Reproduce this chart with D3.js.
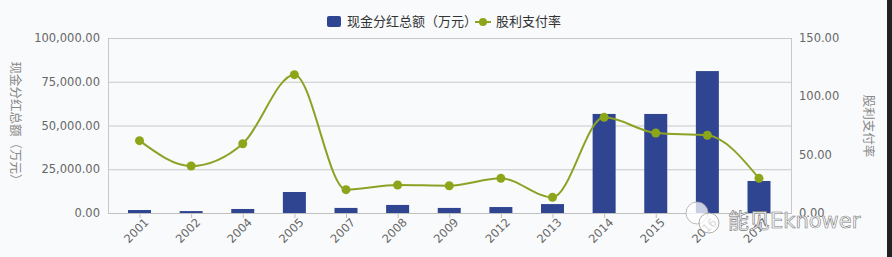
<!DOCTYPE html>
<html>
<head>
<meta charset="utf-8">
<script src="https://cdn.jsdelivr.net/npm/d3@7"></script>
<style>
  html, body { margin: 0; padding: 0; background: #f9fafc; }
  svg { display: block; }
  text { font-family: "DejaVu Sans", "Noto Sans CJK SC", sans-serif; }
</style>
</head>
<body>
<svg id="chart" width="892" height="257"></svg>
<script>
// Years with a cash dividend
const years = ["2001", "2002", "2004", "2005", "2007", "2008", "2009", "2012", "2013", "2014", "2015", "2016", "2017"];
// Total cash dividend (10k yuan)
const dividendTotal = [1700, 1100, 2300, 12000, 2900, 4600, 2900, 3400, 5100, 56600, 56600, 81100, 18300];
// Dividend payout ratio (%)
const payoutRatio = [62.0, 40.3, 59.4, 118.6, 20.0, 24.0, 23.4, 29.7, 13.4, 82.0, 68.6, 66.6, 29.7];
// Axis ticks
const leftTicks = [0, 25000, 50000, 75000, 100000];
const rightTicks = [0, 50, 100, 150];

const barName = "现金分红总额（万元）";
const lineName = "股利支付率";

const svg = d3.select("#chart");
const W = 892, H = 257;
const plot = { left: 108, right: 791, top: 38, bottom: 213 };

const x = d3.scalePoint().domain(years).range([139.5, 759]);
const barW = 23;
const yL = d3.scaleLinear().domain([0, 100000]).range([plot.bottom, plot.top]);
const yR = d3.scaleLinear().domain([0, 150]).range([plot.bottom, plot.top]);

const fmt = d3.format(",.2f");
const axisColor = "#666";

// grid lines
svg.append("g").selectAll("line").data(leftTicks.slice(1)).join("line")
  .attr("x1", plot.left).attr("x2", plot.right)
  .attr("y1", d => yL(d) + 0.5).attr("y2", d => yL(d) + 0.5)
  .attr("stroke", "#c8c8c8").attr("stroke-width", 1);

// side frame lines
svg.append("line").attr("x1", plot.left + 0.5).attr("x2", plot.left + 0.5)
  .attr("y1", plot.top).attr("y2", plot.bottom).attr("stroke", "#c8c8c8");
svg.append("line").attr("x1", plot.right + 0.5).attr("x2", plot.right + 0.5)
  .attr("y1", plot.top).attr("y2", plot.bottom).attr("stroke", "#c8c8c8");

// left axis labels
svg.append("g").selectAll("text").data(leftTicks).join("text")
  .attr("x", 100).attr("y", d => yL(d) + 4)
  .attr("text-anchor", "end").attr("font-size", 11.5).attr("fill", axisColor)
  .text(d => fmt(d));

// right axis labels
svg.append("g").selectAll("text").data(rightTicks).join("text")
  .attr("x", 799).attr("y", d => yR(d) + 4)
  .attr("text-anchor", "start").attr("font-size", 11.5).attr("fill", axisColor)
  .text(d => fmt(d));

// axis titles
svg.append("text")
  .attr("transform", `translate(11,124) rotate(90)`)
  .attr("text-anchor", "middle").attr("font-size", 12.5).attr("fill", "#888")
  .text(barName);
svg.append("text")
  .attr("transform", `translate(864,126) rotate(90)`)
  .attr("text-anchor", "middle").attr("font-size", 12.5).attr("fill", "#888")
  .text(lineName);

// bars
svg.append("g").selectAll("rect").data(years).join("rect")
  .attr("x", d => x(d) - barW / 2)
  .attr("width", barW)
  .attr("y", (d, i) => yL(dividendTotal[i]))
  .attr("height", (d, i) => plot.bottom - yL(dividendTotal[i]))
  .attr("fill", "#2f4592");

// x axis line and ticks
svg.append("line").attr("x1", plot.left).attr("x2", plot.right + 1)
  .attr("y1", plot.bottom + 0.5).attr("y2", plot.bottom + 0.5).attr("stroke", "#c0c0c0");
svg.append("g").selectAll("line").data(years).join("line")
  .attr("x1", d => x(d) + 0.5).attr("x2", d => x(d) + 0.5)
  .attr("y1", plot.bottom).attr("y2", plot.bottom + 5).attr("stroke", "#c0c0c0");

// x labels
svg.append("g").selectAll("text").data(years).join("text")
  .attr("transform", d => `translate(${x(d) + 10},${plot.bottom + 10}) rotate(-45)`)
  .attr("text-anchor", "end").attr("font-size", 11.5).attr("fill", axisColor)
  .text(d => d);

// payout line
const lineGen = d3.line()
  .x((d, i) => x(years[i]))
  .y(d => yR(d))
  .curve(d3.curveMonotoneX);
svg.append("path").datum(payoutRatio)
  .attr("d", lineGen)
  .attr("fill", "none").attr("stroke", "#8ba224").attr("stroke-width", 2);
svg.append("g").selectAll("circle").data(payoutRatio).join("circle")
  .attr("cx", (d, i) => x(years[i])).attr("cy", d => yR(d))
  .attr("r", 4.5).attr("fill", "#8ca61a");

// legend
const lg = svg.append("g");
lg.append("rect").attr("x", 327).attr("y", 16).attr("width", 14).attr("height", 11)
  .attr("rx", 2).attr("fill", "#2f4592");
lg.append("text").attr("x", 347).attr("y", 26).attr("font-size", 13).attr("fill", "#333")
  .text(barName);
lg.append("line").attr("x1", 475).attr("x2", 491).attr("y1", 22).attr("y2", 22)
  .attr("stroke", "#8ba224").attr("stroke-width", 2);
lg.append("circle").attr("cx", 483).attr("cy", 22).attr("r", 4).attr("fill", "#8ca61a");
lg.append("text").attr("x", 496).attr("y", 26).attr("font-size", 13).attr("fill", "#333")
  .text(lineName);

// account watermark
const wm = svg.append("g");
wm.append("circle").attr("cx", 697).attr("cy", 213).attr("r", 11)
  .attr("fill", "rgba(255,255,255,0.75)").attr("stroke", "#aaa").attr("stroke-width", 0.8);
wm.append("circle").attr("cx", 709).attr("cy", 223).attr("r", 10)
  .attr("fill", "rgba(255,255,255,0.75)").attr("stroke", "#999").attr("stroke-width", 0.8);
wm.append("text").attr("x", 728).attr("y", 228).attr("font-size", 21)
  .attr("font-family", "Noto Sans CJK SC, DejaVu Sans, sans-serif")
  .attr("fill", "#fff").attr("stroke", "#777").attr("stroke-width", 0.6)
  .text("能见Eknower");

// right border strip
svg.append("rect").attr("x", 887).attr("y", 0).attr("width", 5).attr("height", H).attr("fill", "#222");
</script>
</body>
</html>
